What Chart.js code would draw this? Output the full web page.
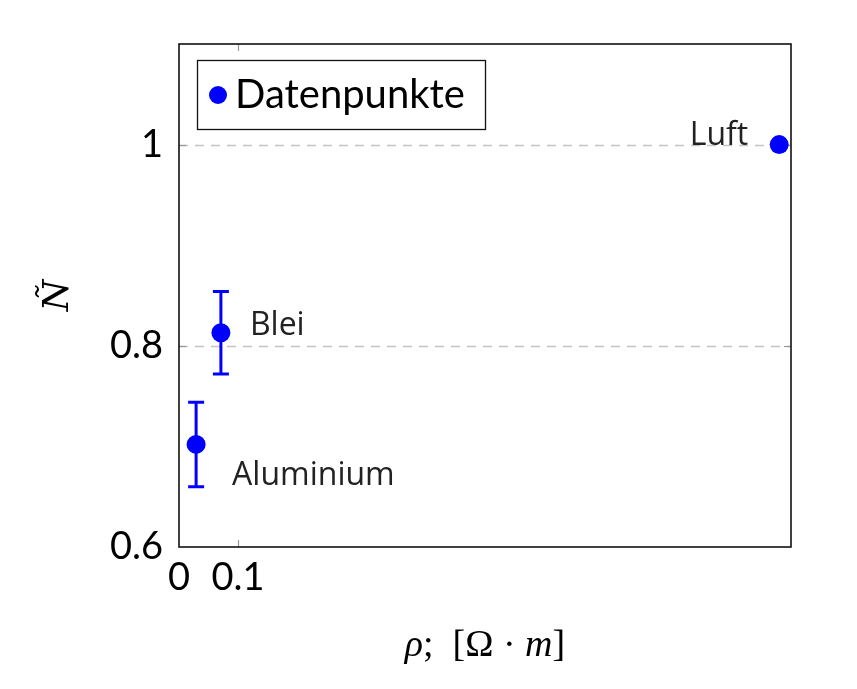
<!DOCTYPE html>
<html>
<head>
<meta charset="utf-8">
<script src="https://cdn.jsdelivr.net/npm/chart.js@4.4.1/dist/chart.umd.min.js"></script>
<style>
html,body{margin:0;padding:0;background:#fff;}
#wrap{width:857px;height:689px;}
</style>
</head>
<body>
<div id="wrap"><canvas id="c" width="857" height="689"></canvas></div>
<script>
const materials = ['Aluminium', 'Blei', 'Luft'];
const rho = [0.029, 0.071, 1.017];
const nTilde = [0.702, 0.813, 1.0];
const nErr = [0.042, 0.041, 0];
const xTicks = [0, 0.1];
const yTicks = [0.6, 0.8, 1];
const xTickLabels = ['0', '0.1'];
const yTickLabels = ['0.6', '0.8', '1'];
const seriesLabel = 'Datenpunkte';
const xTitleParts = [['ρ', true], [';  ', false], ['[Ω · ', false], ['m', true], [']', false]];

const BLUE = '#0000ff';
const labelStyle = [
  {dx: 36, dy: 32, align: 'left'},
  {dx: 29, dy: -7, align: 'left'},
  {dx: -31, dy: -9, align: 'right'}
];

const points = rho.map((x, i) => ({x: x, y: nTilde[i]}));

const decorPlugin = {
  id: 'decor',
  beforeDatasetsDraw(chart) {
    const {ctx, chartArea: a, scales: {x, y}} = chart;
    ctx.save();
    ctx.strokeStyle = '#c4c4c4';
    ctx.lineWidth = 1.3;
    ctx.setLineDash([9, 7]);
    yTicks.forEach(v => {
      if (v <= y.min || v >= y.max) return;
      const py = Math.round(y.getPixelForValue(v)) + 0.5;
      ctx.beginPath(); ctx.moveTo(a.left, py); ctx.lineTo(a.right, py); ctx.stroke();
    });
    ctx.setLineDash([]);
    ctx.strokeStyle = '#999';
    ctx.lineWidth = 1.2;
    xTicks.forEach(v => {
      if (v <= x.min || v >= x.max) return;
      const px = Math.round(x.getPixelForValue(v)) + 0.5;
      ctx.beginPath(); ctx.moveTo(px, a.bottom); ctx.lineTo(px, a.bottom - 7); ctx.stroke();
      ctx.beginPath(); ctx.moveTo(px, a.top); ctx.lineTo(px, a.top + 7); ctx.stroke();
    });
    yTicks.forEach(v => {
      if (v <= y.min || v >= y.max) return;
      const py = Math.round(y.getPixelForValue(v)) + 0.5;
      ctx.beginPath(); ctx.moveTo(a.left, py); ctx.lineTo(a.left + 7, py); ctx.stroke();
      ctx.beginPath(); ctx.moveTo(a.right, py); ctx.lineTo(a.right - 7, py); ctx.stroke();
    });
    ctx.strokeStyle = BLUE;
    ctx.lineWidth = 3;
    rho.forEach((xv, i) => {
      if (!nErr[i]) return;
      const px = x.getPixelForValue(xv);
      const top = y.getPixelForValue(nTilde[i] + nErr[i]);
      const bot = y.getPixelForValue(nTilde[i] - nErr[i]);
      ctx.beginPath();
      ctx.moveTo(px, top); ctx.lineTo(px, bot);
      ctx.moveTo(px - 8, top); ctx.lineTo(px + 8, top);
      ctx.moveTo(px - 8, bot); ctx.lineTo(px + 8, bot);
      ctx.stroke();
    });
    ctx.restore();
  },
  afterDatasetsDraw(chart) {
    const {ctx, chartArea: a, scales: {x, y}} = chart;
    ctx.save();
    ctx.fillStyle = '#222';
    ctx.font = '32px "Open Sans"';
    ctx.textBaseline = 'middle';
    materials.forEach((m, i) => {
      const s = labelStyle[i];
      ctx.textAlign = s.align;
      ctx.fillText(m, x.getPixelForValue(rho[i]) + s.dx, y.getPixelForValue(nTilde[i]) + s.dy);
    });
    ctx.strokeStyle = '#111';
    ctx.lineWidth = 1.6;
    ctx.strokeRect(a.left, a.top, a.right - a.left, a.bottom - a.top);
    // legend
    const lx = 197.5, ly = 60.5, lw = 288, lh = 69;
    ctx.fillStyle = '#fff';
    ctx.fillRect(lx, ly, lw, lh);
    ctx.strokeStyle = '#111';
    ctx.lineWidth = 1.3;
    ctx.strokeRect(lx, ly, lw, lh);
    ctx.fillStyle = BLUE;
    ctx.beginPath(); ctx.arc(218, 95, 9, 0, Math.PI * 2); ctx.fill();
    ctx.fillStyle = '#000';
    ctx.font = '40px Lato';
    ctx.textAlign = 'left';
    ctx.textBaseline = 'middle';
    ctx.fillText(seriesLabel, 235, 95);
    // x axis title with mixed styles
    const fontFor = it => (it ? 'italic ' : '') + '38px "Liberation Serif"';
    let total = 0;
    xTitleParts.forEach(([t, it]) => { ctx.font = fontFor(it); total += ctx.measureText(t).width; });
    let cx = (a.left + a.right) / 2 - total / 2;
    ctx.textAlign = 'left';
    ctx.textBaseline = 'alphabetic';
    xTitleParts.forEach(([t, it]) => {
      ctx.font = fontFor(it);
      ctx.fillText(t, cx, 656);
      cx += ctx.measureText(t).width;
    });
    ctx.restore();
  }
};

new Chart(document.getElementById('c'), {
  type: 'scatter',
  data: {
    datasets: [{
      label: seriesLabel,
      data: points,
      backgroundColor: BLUE,
      borderColor: BLUE,
      pointRadius: 9.5,
      pointHoverRadius: 9.5,
      borderWidth: 0
    }]
  },
  options: {
    responsive: false,
    animation: false,
    events: [],
    layout: {padding: {left: 0, right: 66, top: 44, bottom: 0}},
    plugins: {legend: {display: false}, tooltip: {enabled: false}},
    scales: {
      x: {
        type: 'linear',
        min: 0,
        max: 1.037,
        afterBuildTicks(scale) { scale.ticks = xTicks.map(v => ({value: v})); },
        afterFit(scale) { scale.height = 689 - 547; },
        grid: {display: false, drawTicks: false},
        border: {display: false},
        ticks: {
          color: '#000',
          font: {family: 'Lato', size: 38},
          padding: 8,
          maxRotation: 0,
          autoSkip: false,
          callback(v, i) { return xTickLabels[i]; }
        },
        title: {display: false}
      },
      y: {
        type: 'linear',
        min: 0.6,
        max: 1.1,
        afterBuildTicks(scale) { scale.ticks = yTicks.map(v => ({value: v})); },
        afterFit(scale) { scale.width = 179; },
        grid: {display: false, drawTicks: false},
        border: {display: false},
        ticks: {
          color: '#000',
          font: {family: 'Lato', size: 38},
          padding: 16,
          autoSkip: false,
          callback(v, i) { return yTickLabels[i]; }
        },
        title: {
          display: true,
          text: 'Ñ',
          color: '#000',
          font: {family: 'DejaVu Serif', size: 36, style: 'italic'},
          padding: {top: 37, bottom: 0}
        }
      }
    }
  },
  plugins: [decorPlugin]
});
</script>
</body>
</html>
